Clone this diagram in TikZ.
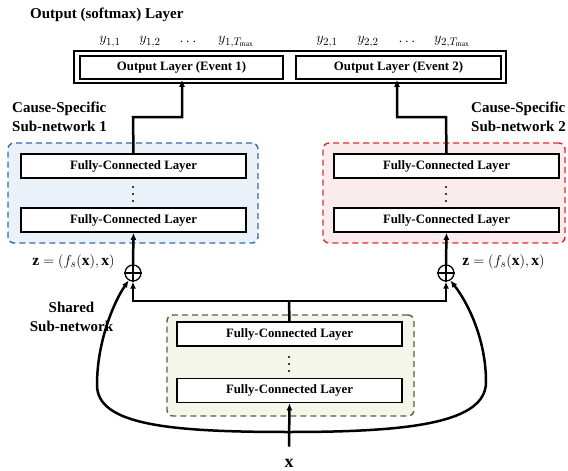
\documentclass[tikz,border=0pt]{standalone}
\usepackage{fontspec}
\setmainfont{Liberation Serif}
\usetikzlibrary{arrows.meta}
\definecolor{bluebd}{RGB}{50,108,170}
\definecolor{bluefl}{RGB}{234,241,248}
\definecolor{redbd}{RGB}{225,45,45}
\definecolor{redfl}{RGB}{250,236,236}
\definecolor{greenbd}{RGB}{88,98,66}
\definecolor{greenfl}{RGB}{244,246,234}
\tikzset{
  fcbox/.style={draw=black, line width=1.6pt, fill=white, minimum width=225pt, minimum height=24pt, inner sep=0pt, font=\bfseries\fontsize{12.8}{14}\selectfont},
  outbox/.style={draw=black, line width=1.6pt, fill=white, minimum height=23pt, inner sep=0pt, font=\bfseries\fontsize{12.8}{14}\selectfont},
  grp/.style={draw, dashed, dash pattern=on 6pt off 4pt, line width=1.4pt, rounded corners=6pt, inner sep=0pt},
  conn/.style={line width=2.5pt},
  arr/.style={conn, -{Latex[length=7pt,width=6pt]}},
  lbl/.style={font=\bfseries\fontsize{15}{19}\selectfont, inner sep=0pt},
  ylab/.style={font=\fontsize{15}{17}\selectfont, inner sep=0pt},
  plusnode/.style={circle, draw, line width=1.3pt, minimum size=16pt, inner sep=0pt, fill=white},
  vdots/.style={circle, fill=black, inner sep=0pt, minimum size=2.4pt}
}
\begin{document}
\begin{tikzpicture}[x=1pt,y=-1pt]
\useasboundingbox[fill=white] (0,0) rectangle (568,471);

% group boxes
\node[grp, draw=bluebd, fill=bluefl, minimum width=250pt, minimum height=100pt] (gblue) at (133,193) {};
\node[grp, draw=redbd, fill=redfl, minimum width=242pt, minimum height=100pt] (gred) at (444,193) {};
\node[grp, draw=greenbd, fill=greenfl, minimum width=247pt, minimum height=101pt] (ggreen) at (290.5,365.5) {};

% output layer
\node[lbl, anchor=west] (title) at (30,15) {Output (softmax) Layer};
\node[draw=black, line width=1.6pt, minimum width=432pt, minimum height=32pt, inner sep=0pt] (outer) at (290,67) {};
\node[outbox, minimum width=203pt] (o1) at (181.5,67.5) {Output Layer (Event 1)};
\node[outbox, minimum width=205pt] (o2) at (398.5,67.5) {Output Layer (Event 2)};

\node[ylab] (y11) at (110,42) {$y_{1,1}$};
\node[ylab] (y12) at (150,42) {$y_{1,2}$};
\node[ylab] (yd1) at (188,42) {$\cdots$};
\node[ylab] (y1T) at (236,42) {$y_{1,T_{\max}}$};
\node[ylab] (y21) at (327,42) {$y_{2,1}$};
\node[ylab] (y22) at (368,42) {$y_{2,2}$};
\node[ylab] (yd2) at (407,42) {$\cdots$};
\node[ylab] (y2T) at (452,42) {$y_{2,T_{\max}}$};

% cause-specific subnetworks
\node[lbl, anchor=west, align=left] (cs1) at (12,116.5) {Cause-Specific\\Sub-network 1};
\node[lbl, anchor=west, align=left] (cs2) at (471,116.5) {Cause-Specific\\Sub-network 2};

\node[fcbox] (a1) at (133.5,166) {Fully-Connected Layer};
\node[fcbox] (a2) at (133.5,220) {Fully-Connected Layer};
\node[fcbox] (b1) at (446.5,166) {Fully-Connected Layer};
\node[fcbox] (b2) at (446.5,220) {Fully-Connected Layer};
\node[vdots] (ad1) at (133,187) {};
\node[vdots] (ad2) at (133,194) {};
\node[vdots] (ad3) at (133,201) {};
\node[vdots] (bd1) at (446,187) {};
\node[vdots] (bd2) at (446,194) {};
\node[vdots] (bd3) at (446,201) {};

% shared subnetwork
\node[lbl, align=center] (sh) at (71.5,317) {Shared\\Sub-network};
\node[fcbox] (s1) at (289.5,334) {Fully-Connected Layer};
\node[fcbox] (s2) at (289.5,390.5) {Fully-Connected Layer};
\node[vdots] (sd1) at (289,357) {};
\node[vdots] (sd2) at (289,364) {};
\node[vdots] (sd3) at (289,371) {};

% z labels and plus nodes
\node[inner sep=0pt, font=\fontsize{15.5}{17}\selectfont] (z1) at (73.5,262) {$\mathbf{z} = (f_s(\mathbf{x}),\mathbf{x})$};
\node[inner sep=0pt, font=\fontsize{15.5}{17}\selectfont] (z2) at (503.5,262) {$\mathbf{z} = (f_s(\mathbf{x}),\mathbf{x})$};
\node[plusnode] (lc) at (133,273) {};
\node[plusnode] (rc) at (446,273) {};
\draw[line width=1.2pt] (lc.north) -- (lc.south) (lc.west) -- (lc.east);
\draw[line width=1.2pt] (rc.north) -- (rc.south) (rc.west) -- (rc.east);

% input
\node[inner sep=0pt, font=\fontsize{18}{20}\selectfont] (xl) at (289,463) {$\mathbf{x}$};
\coordinate (xc) at (289,432);

% connectors
\draw[arr] ([yshift=12pt]xl.north) -- (s2.south);
\draw[conn] (s1.north) -- (289,301) coordinate (hj);
\draw[arr] (hj) -| (lc.south);
\draw[arr] (hj) -| (rc.south);
\draw[arr] (lc.north) -- (a2.south);
\draw[arr] (rc.north) -- (b2.south);
\draw[arr] (xc) .. controls (170,432) and (97,425) .. (97,385) .. controls (97,340) and (115,300) .. (lc.240);
\draw[arr] (xc) .. controls (410,432) and (486,423) .. (486,382) .. controls (486,337) and (466,300) .. (rc.300);
\draw[arr] (a1.north) -- (133,117) -| (o1.south -| 182,0);
\draw[arr] (b1.north) -- (446,117) -| (o2.south -| 397,0);
\end{tikzpicture}
\end{document}
